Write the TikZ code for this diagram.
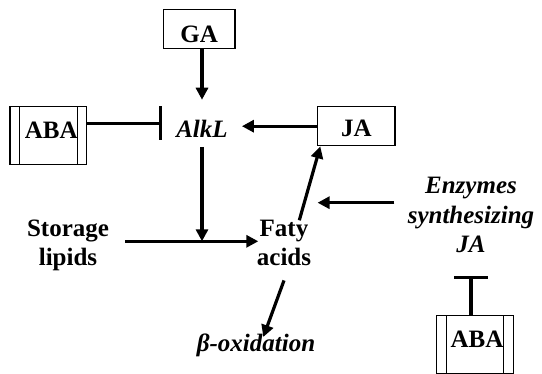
\documentclass[tikz,border=0pt]{standalone}
\usepackage{fontspec}
\setmainfont{Liberation Serif}
\usetikzlibrary{arrows.meta}
\tikzset{
  txt/.style={font=\fontsize{25}{29.5}\selectfont\bfseries, inner sep=0pt, align=center},
  itxt/.style={txt, font=\fontsize{25}{29.5}\selectfont\bfseries\itshape},
  plainbox/.style={txt, draw, line width=1.3pt, minimum width=#1, minimum height=39pt},
  ababox/.style={txt, draw, line width=1.3pt, minimum width=76.7pt, minimum height=58pt,
    path picture={
      \draw[line width=1pt] ([xshift=9.5pt]path picture bounding box.north west) -- ([xshift=9.5pt]path picture bounding box.south west);
      \draw[line width=1pt] ([xshift=-9.5pt]path picture bounding box.north east) -- ([xshift=-9.5pt]path picture bounding box.south east);
    }},
  arr/.style={line width=3.2pt, -{Triangle[length=12pt,width=12pt]}},
  inh/.style={line width=3.2pt, -{Bar[width=34pt]}},
}
\begin{document}
\begin{tikzpicture}[x=1pt,y=-1pt]
\useasboundingbox (0,0) rectangle (542,374);
% boxes
\node[plainbox=71.7pt, text height=27.4pt, text depth=0pt] (ga) at (199.2,28.8) {GA};
\node[plainbox=77.3pt, text height=21.6pt, text depth=0pt] (ja) at (356.3,126.2) {JA};
\node[ababox, text height=16.5pt, text depth=11.5pt] (abaL) at (48.3,135.8) {\hspace*{6pt}ABA};
\node[ababox, text height=16.5pt, text depth=10.3pt] (abaB) at (475,344.2) {\hspace*{4pt}ABA};
% texts
\node[itxt, minimum width=79.4pt, minimum height=46.7pt, text height=28pt, text depth=0pt] (alkl) at (202,123.3) {AlkL};
\node[txt, anchor=base] (storage) at (68,266) {Storage\\lipids};
\node[txt, anchor=base] (faty) at (284,266) {Faty\\acids};
\node[itxt, anchor=base] (enz) at (471,253) {Enzymes\\synthesizing\\JA};
\node[itxt, anchor=base] (beta) at (256,352) {β-oxidation};
% connectors
\coordinate (hA) at ([xshift=16pt,yshift=24.7pt]storage.base east);
\coordinate (hB) at ([xshift=1.6pt,yshift=24.7pt]faty.base west);
\draw[arr] (ga.south -| alkl.north) -- (alkl.north);
\draw[inh] (abaL.east |- alkl.west) -- (alkl.west);
\draw[arr] (ja.west) -- (ja.west -| alkl.east);
\draw[arr] (hA) -- (hB);
\draw[arr] (alkl.south) -- (alkl.south |- hB);
\draw[arr] ([xshift=15.3pt,yshift=45.7pt]faty.base) -- ([xshift=3.3pt]ja.south west);
\draw[arr] ([xshift=-13.3pt,yshift=50.3pt]enz.base west) -- ++(-76.7,0);
\draw[inh] (abaB.north -| enz.south) -- ++(0,-39);
\draw[arr] ([yshift=-14pt]faty.south) -- ([xshift=7.3pt,yshift=15pt]beta.base);
\end{tikzpicture}
\end{document}
